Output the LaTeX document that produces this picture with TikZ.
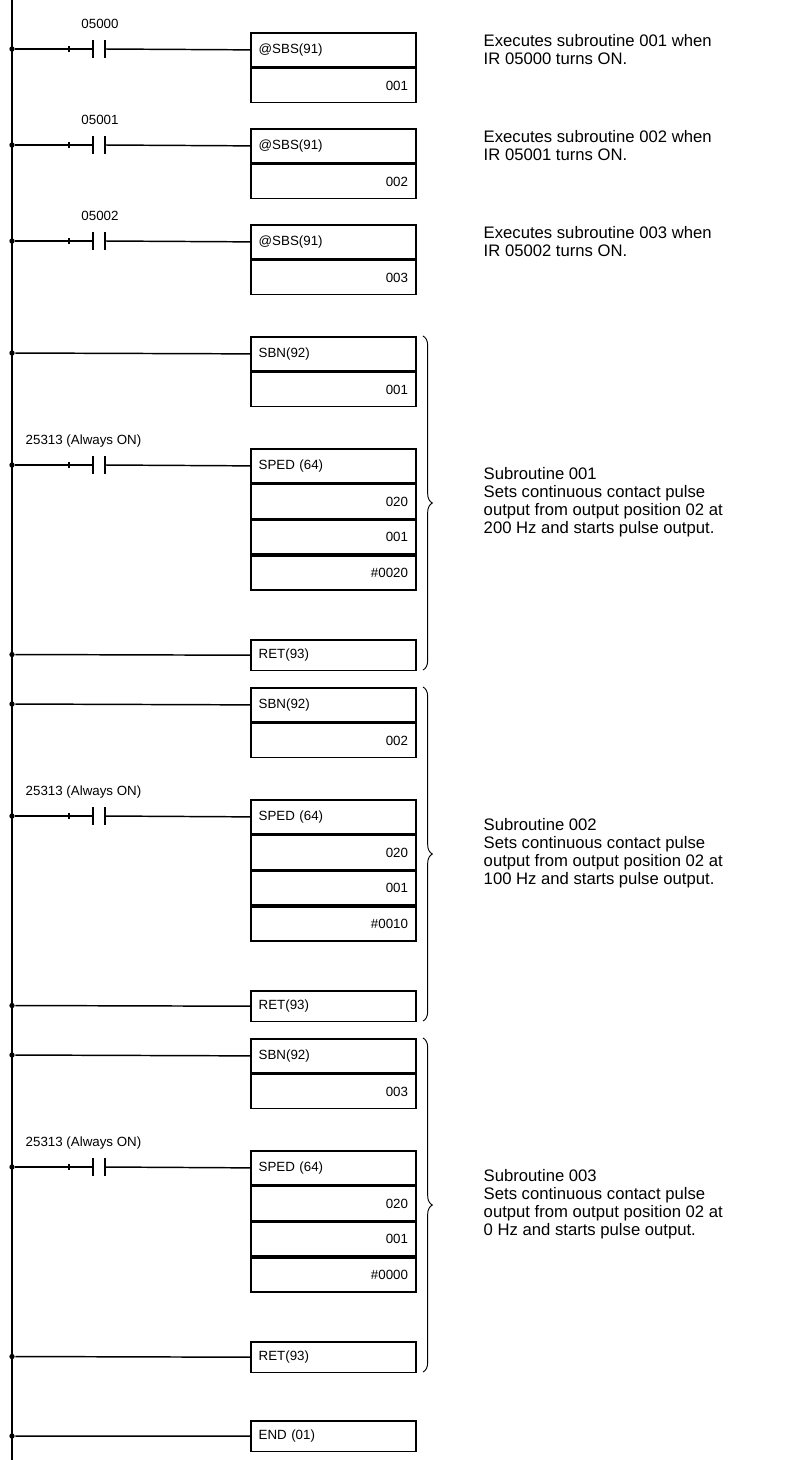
\documentclass[tikz,border=0pt]{standalone}
\usepackage{fontspec}
\setmainfont{Liberation Sans}
\usetikzlibrary{decorations.pathreplacing}
\newcommand\contact[2]{% name, y
  \node[circle,fill,inner sep=0pt,minimum size=4pt] (#1d) at (12,#2) {};
  \coordinate (#1a) at (93,#2); \coordinate (#1b) at (105,#2);
  \draw (#1d) -- (#1a); \draw (69,#2-3) -- (69,#2+3);
  \draw[line width=1.6pt] (93,#2-9) -- (93,#2+9);
  \draw[line width=1.6pt] (105,#2-9) -- (105,#2+9);
}
\begin{document}
\begin{tikzpicture}[x=0.75pt,y=-0.75pt,line width=1.1pt,
  cell/.style={draw,line width=1.3pt,minimum width=123.75pt,minimum height=25.5pt,inner sep=4pt,font=\fontsize{10}{12}\selectfont},
  lcell/.style={cell,text width=112pt,align=left},
  rcell/.style={cell,text width=112pt,align=right},
  lbl/.style={font=\fontsize{10}{12}\selectfont,inner sep=0pt},
  note/.style={font=\fontsize{12.5}{13.5}\selectfont,align=left,anchor=north west,inner sep=0pt},
  dotn/.style={circle,fill,inner sep=0pt,minimum size=4pt},
  brc/.style={draw,line width=0.7pt,decorate,decoration={brace,amplitude=7pt}}]
\useasboundingbox (0,0) rectangle (812,1460);
\draw[line width=1.6pt] (12,0) coordinate (rtop) -- (12,1460) coordinate (rbot);
\foreach \i/\t/\r/\c/\v in {1/32/49/05000/001, 2/128/145/05001/002, 3/224/241/05002/003}{
  \contact{k\i}{\r}
  \node[lbl,anchor=base] (t\i) at (100,\r-21) {\c};
  \node[lcell,anchor=north west] (b\i h) at (250,\t) {@SBS(91)};
  \node[rcell,anchor=north west] (b\i v) at (b\i h.south west) {\v};
  \draw (k\i b) -- (b\i h.west);
  \node[note] (n\i) at (483,\t+2) {Executes subroutine \v\ when\\IR \c\ turns ON.};
}
\foreach \g/\o/\hz in {1/0/0020, 2/351/0010, 3/702/0000}{
  \pgfmathsetmacro\yA{336+\o}
  \pgfmathsetmacro\rA{353+\o}
  \pgfmathsetmacro\yB{448+\o}
  \pgfmathsetmacro\rB{465+\o}
  \pgfmathsetmacro\yC{639+\o}
  \pgfmathsetmacro\rC{654.5+\o}
  \node[dotn] (s\g d) at (12,\rA) {};
  \node[lcell,anchor=north west] (s\g h) at (250,\yA) {SBN(92)};
  \node[rcell,anchor=north west] (s\g v) at (s\g h.south west) {00\g};
  \draw (s\g d) -- (s\g h.west);
  \contact{p\g}{\rB}
  \node[lbl,anchor=base west] (p\g t) at (25,\rB-21) {25313 (Always ON)};
  \node[lcell,anchor=north west] (p\g h) at (250,\yB) {SPED (64)};
  \node[rcell,anchor=north west] (p\g 1) at (p\g h.south west) {020};
  \node[rcell,anchor=north west] (p\g 2) at (p\g 1.south west) {001};
  \node[rcell,anchor=north west] (p\g 3) at (p\g 2.south west) {\#\hz};
  \draw (p\g b) -- (p\g h.west);
  \node[dotn] (r\g d) at (12,\rC) {};
  \node[lcell,anchor=north west,minimum height=23pt] (r\g h) at (250,\yC) {RET(93)};
  \draw (r\g d) -- (r\g h.west);
  \draw[brc] (423,\yA) -- (423,\yC+31);
}
\node[note] (m1) at (483,467) {Subroutine 001\\Sets continuous contact pulse\\output from output position 02 at\\200 Hz and starts pulse output.};
\node[note] (m2) at (483,818) {Subroutine 002\\Sets continuous contact pulse\\output from output position 02 at\\100 Hz and starts pulse output.};
\node[note] (m3) at (483,1169) {Subroutine 003\\Sets continuous contact pulse\\output from output position 02 at\\0 Hz and starts pulse output.};
\node[dotn] (ed) at (12,1436) {};
\node[lcell,anchor=north west,minimum height=23pt] (eh) at (250,1420) {END (01)};
\draw (ed) -- (eh.west);
\end{tikzpicture}
\end{document}
